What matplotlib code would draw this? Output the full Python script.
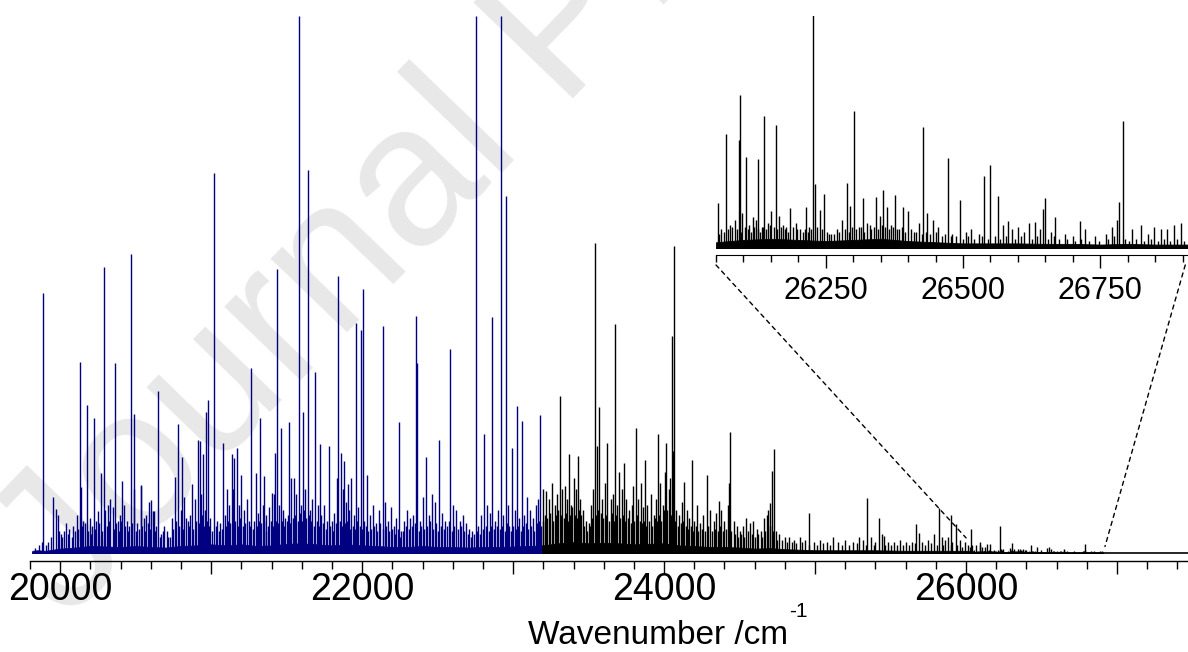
import matplotlib.pyplot as plt
from matplotlib.patches import ConnectionPatch
from matplotlib.ticker import MultipleLocator, FuncFormatter
import numpy as np

plt.rcParams['font.family'] = ['Liberation Sans', 'DejaVu Sans']

NAVY = '#000080'

# spectrum limits and colour change (cm-1)
spec_start = 19815
colour_split = 23192

# strong lines, blue part (wavenumber /cm-1, relative intensity)
blue_peak_wn = [19887, 20130, 20177, 20221, 20270, 20287, 20364, 20409, 20468, 20490,
                20534, 20587, 20623, 20649, 20762, 20781, 20804, 20872, 20925, 20947,
                20965, 20980, 21020, 21080, 21104, 21135, 21152, 21170, 21200, 21267,
                21296, 21323, 21353, 21402, 21422, 21437, 21462, 21517, 21532, 21585,
                21608, 21641, 21691, 21718, 21781, 21843, 21859, 21881, 21907, 21929,
                21962, 21995, 22004, 22033, 22135, 22241, 22356, 22366, 22421, 22512,
                22583, 22753, 22808, 22861, 22918, 22951, 22991, 23026, 23057, 23179]
blue_peak_int = [48.4, 35.5, 27.5, 25.2, 14.9, 53.3, 35.3, 13.4, 55.6, 25.8,
                 12.5, 9.5, 7.9, 30.2, 14.1, 24.0, 17.9, 12.8, 20.8, 18.4,
                 26.3, 28.5, 70.7, 20.5, 12.0, 18.5, 17.7, 19.5, 14.5, 34.5,
                 14.9, 25.2, 14.3, 11.2, 18.6, 52.8, 23.2, 24.4, 13.9, 100.0,
                 26.3, 71.3, 33.7, 20.2, 19.9, 51.6, 18.6, 17.2, 12.8, 13.9,
                 42.8, 41.5, 49.2, 14.5, 42.3, 24.3, 44.1, 35.3, 17.9, 21.0,
                 37.9, 100.0, 22.2, 43.9, 100.0, 66.5, 19.6, 27.3, 24.5, 25.6]

# strong lines, black part
black_peak_wn = [23311, 23345, 23371, 23430, 23541, 23570, 23623, 23677, 23702, 23735,
                 23794, 23812, 23845, 23874, 23911, 23962, 24015, 24050, 24066, 24134,
                 24183, 24285, 24364, 24437, 24702, 24713, 24728, 24957, 25346, 25424,
                 25457, 25669, 25685, 25821, 25898, 25934, 26033]
black_peak_int = [29.3, 12.4, 18.5, 18.0, 57.7, 27.2, 20.5, 42.7, 15.0, 16.7,
                  12.5, 23.3, 13.0, 17.3, 11.0, 22.2, 20.4, 40.4, 57.2, 13.2,
                  17.3, 14.5, 9.7, 22.5, 9.3, 15.3, 19.4, 7.4, 10.3, 6.5,
                  3.2, 5.3, 3.8, 8.4, 7.0, 5.4, 4.5]

# weaker lines
blue_weak_wn = [19835, 19860, 19920, 19951, 19970, 19985, 20005, 20025, 20040, 20060,
                20075, 20095, 20110, 20136, 20150, 20165, 20195, 20210, 20235, 20250,
                20300, 20315, 20331, 20350, 20380, 20395, 20420, 20440, 20455, 20491,
                20510, 20537, 20555, 20570, 20600, 20612, 20635, 20670, 20690, 20705,
                20725, 20740, 20800, 20820, 20845, 20860, 20890, 20911, 20935, 20960,
                20995, 21040, 21060, 21090, 21120, 21145, 21185, 21215, 21240, 21285,
                21310, 21340, 21365, 21385, 21415, 21450, 21475, 21490, 21550, 21565,
                21595, 21620, 21655, 21670, 21705, 21730, 21750, 21770, 21800, 21815,
                21834, 21870, 21895, 21915, 21945, 21975, 22015, 22050, 22070, 22090,
                22110, 22150, 22170, 22190, 22210, 22225, 22260, 22280, 22300, 22320,
                22340, 22385, 22401, 22440, 22460, 22480, 22530, 22550, 22600, 22620,
                22645, 22665, 22690, 22710, 22730, 22770, 22790, 22830, 22845, 22880,
                22900, 22935, 22965, 23010, 23040, 23075, 23090, 23110, 23130, 23150,
                23165]
blue_weak_int = [1.0, 1.5, 2.0, 10.4, 8.1, 7.0, 3.5, 4.0, 5.6, 4.5,
                 3.0, 4.0, 7.0, 12.3, 6.0, 5.5, 6.5, 5.0, 6.0, 7.8,
                 8.0, 9.0, 10.1, 8.5, 6.0, 7.0, 9.0, 6.0, 5.0, 12.0,
                 5.5, 12.7, 6.5, 7.0, 9.8, 7.9, 5.0, 3.5, 5.0, 4.0,
                 3.0, 6.5, 8.0, 10.5, 6.0, 7.0, 10.0, 21.0, 11.0, 8.0,
                 6.5, 6.0, 5.5, 7.0, 9.0, 12.0, 9.0, 8.0, 10.0, 6.0,
                 7.5, 9.0, 7.0, 8.5, 11.0, 9.0, 8.0, 6.5, 14.0, 11.0,
                 9.0, 12.0, 8.0, 10.0, 9.0, 7.0, 9.0, 6.0, 6.0, 7.5,
                 14.0, 12.0, 9.5, 8.0, 7.0, 8.5, 6.0, 7.0, 9.0, 5.5,
                 8.0, 9.5, 6.0, 8.5, 5.0, 6.5, 4.0, 6.0, 8.0, 6.5,
                 7.0, 6.0, 10.4, 7.0, 11.0, 9.5, 7.5, 6.0, 9.0, 8.0,
                 6.0, 7.0, 5.5, 4.5, 4.0, 5.0, 7.0, 9.0, 7.5, 6.0,
                 8.0, 7.0, 9.0, 8.0, 6.5, 7.0, 10.5, 8.0, 6.5, 9.0,
                 10.0]

black_weak_wn = [23200, 23215, 23235, 23255, 23275, 23290, 23325, 23360, 23385, 23400,
                 23415, 23445, 23460, 23480, 23500, 23515, 23530, 23555, 23590, 23610,
                 23645, 23660, 23690, 23720, 23750, 23770, 23785, 23830, 23860, 23890,
                 23930, 23945, 23975, 23990, 24005, 24030, 24040, 24060, 24080, 24100,
                 24120, 24150, 24165, 24200, 24215, 24240, 24260, 24305, 24330, 24345,
                 24380, 24400, 24420, 24432, 24460, 24480, 24500, 24520, 24545, 24570,
                 24590, 24615, 24640, 24660, 24680, 24690, 24740, 24760, 24800, 24830,
                 24860, 24900, 24930, 24990, 25030, 25080, 25120, 25150, 25200, 25250,
                 25290, 25320, 25370, 25400, 25440, 25480, 25520, 25560, 25600, 25640,
                 25710, 25750, 25790, 25840, 25860, 25880, 25910, 25960, 25990, 26010,
                 26040]
black_weak_int = [12.0, 11.5, 10.0, 13.0, 9.0, 11.0, 12.0, 10.0, 9.0, 14.0,
                  12.0, 10.0, 8.0, 6.0, 5.5, 9.0, 12.0, 20.0, 10.0, 13.0,
                  10.0, 11.0, 9.0, 12.0, 10.0, 8.0, 9.0, 10.0, 8.5, 9.0,
                  7.0, 10.0, 13.0, 9.0, 15.0, 12.0, 14.0, 19.0, 8.0, 7.0,
                  9.5, 8.0, 6.5, 6.0, 9.0, 5.5, 7.0, 8.0, 6.0, 7.5,
                  8.0, 6.0, 9.0, 13.0, 6.0, 5.0, 4.0, 5.0, 6.5, 5.5,
                  6.0, 4.5, 4.0, 6.5, 7.0, 8.0, 4.0, 3.5, 3.0, 3.0,
                  2.5, 3.0, 2.5, 2.0, 2.5, 2.0, 3.0, 2.0, 2.5, 2.0,
                  3.0, 2.5, 3.0, 2.0, 3.5, 2.0, 2.0, 2.5, 2.0, 2.0,
                  2.0, 2.5, 3.5, 3.0, 2.5, 3.0, 2.0, 2.5, 2.0, 1.5,
                  1.5]

# dense grass of the weakest lines
blue_grass_wn = [19880, 19905, 19940, 19995, 20015, 20050, 20085, 20120, 20145, 20185,
                 20205, 20228, 20260, 20280, 20308, 20325, 20358, 20372, 20388, 20402,
                 20430, 20448, 20475, 20500, 20520, 20545, 20562, 20580, 20595, 20628,
                 20660, 20680, 20715, 20750, 20770, 20790, 20812, 20830, 20852, 20880,
                 20900, 20918, 20940, 20955, 20972, 20988, 21005, 21030, 21050, 21070,
                 21098, 21112, 21128, 21160, 21178, 21192, 21208, 21225, 21250, 21260,
                 21278, 21303, 21318, 21332, 21347, 21360, 21375, 21395, 21408, 21430,
                 21445, 21468, 21482, 21500, 21510, 21525, 21540, 21558, 21575, 21590,
                 21600, 21615, 21630, 21648, 21662, 21680, 21698, 21712, 21740, 21760,
                 21790, 21808, 21825, 21850, 21865, 21888, 21902, 21922, 21938, 21955,
                 21968, 21985, 22000, 22025, 22042, 22060, 22080, 22100, 22120, 22140,
                 22160, 22180, 22200, 22218, 22235, 22250, 22270, 22290, 22310, 22330,
                 22350, 22375, 22392, 22412, 22430, 22450, 22470, 22490, 22505, 22520,
                 22540, 22560, 22575, 22592, 22610, 22632, 22655, 22675, 22700, 22720,
                 22740, 22760, 22780, 22800, 22818, 22838, 22855, 22870, 22890, 22910,
                 22925, 22945, 22958, 22975, 22985, 23000, 23018, 23030, 23050, 23065,
                 23082, 23100, 23120, 23140, 23158, 23172, 23185]
blue_grass_int = [2.0, 1.5, 3.0, 4.0, 3.0, 3.5, 5.0, 4.5, 5.0, 4.0,
                  3.5, 4.5, 5.5, 4.0, 5.0, 6.0, 4.5, 5.5, 4.0, 6.0,
                  5.0, 4.0, 5.5, 4.0, 4.5, 5.0, 4.0, 5.5, 4.5, 4.0,
                  3.0, 4.0, 3.0, 4.5, 6.0, 5.0, 4.5, 6.5, 5.0, 4.5,
                  6.0, 5.5, 7.0, 5.0, 6.0, 5.0, 4.0, 5.0, 4.0, 4.5,
                  5.0, 6.0, 5.5, 6.0, 5.0, 6.5, 5.0, 5.5, 6.0, 5.0,
                  4.5, 5.0, 6.0, 5.5, 6.0, 4.0, 5.0, 6.0, 5.0, 6.0,
                  5.5, 6.0, 5.0, 6.0, 7.0, 5.5, 6.5, 7.0, 6.0, 7.5,
                  6.0, 8.0, 6.5, 7.0, 6.0, 5.0, 6.0, 5.0, 5.5, 4.5,
                  5.0, 4.0, 5.5, 6.0, 5.0, 5.5, 6.0, 4.5, 5.0, 4.5,
                  6.0, 5.0, 4.5, 5.0, 4.0, 4.5, 5.0, 4.0, 5.5, 4.5,
                  5.0, 4.0, 4.5, 3.5, 4.5, 3.0, 4.0, 5.0, 4.5, 5.0,
                  5.5, 4.0, 5.0, 4.5, 5.0, 6.0, 4.5, 5.5, 4.0, 5.0,
                  4.5, 5.0, 6.0, 4.0, 5.0, 4.5, 5.0, 4.0, 3.5, 3.0,
                  3.5, 4.0, 3.5, 4.5, 5.0, 4.0, 5.0, 4.5, 5.0, 4.5,
                  5.0, 4.0, 5.5, 5.0, 4.0, 5.0, 4.5, 5.0, 4.0, 5.0,
                  5.5, 4.5, 5.0, 4.0, 5.5, 6.0, 5.0]

black_grass_wn = [23195, 23208, 23222, 23245, 23265, 23282, 23300, 23318, 23335, 23352,
                  23366, 23378, 23392, 23408, 23422, 23438, 23452, 23470, 23490, 23508,
                  23522, 23548, 23562, 23580, 23598, 23618, 23632, 23652, 23668, 23683,
                  23710, 23728, 23742, 23760, 23778, 23800, 23820, 23838, 23852, 23868,
                  23882, 23900, 23920, 23938, 23955, 23968, 23982, 23998, 24010, 24022,
                  24045, 24072, 24090, 24110, 24128, 24142, 24158, 24175, 24192, 24208,
                  24225, 24250, 24270, 24290, 24315, 24338, 24355, 24372, 24390, 24410,
                  24445, 24470, 24490, 24510, 24530, 24555, 24580, 24600, 24625, 24650,
                  24670, 24700, 24720, 24750, 24780, 24815, 24845, 24875, 24915, 24960,
                  25010, 25055, 25100, 25175, 25225, 25275, 25340, 25390, 25460, 25500,
                  25540, 25580, 25620, 25660, 25730, 25770, 25810, 25850, 25900, 25940,
                  25975, 26025]
black_grass_int = [6.0, 7.0, 6.5, 7.5, 6.0, 7.0, 8.0, 7.0, 6.5, 7.5,
                   6.0, 7.0, 8.5, 7.0, 6.5, 8.0, 7.0, 5.0, 4.0, 5.0,
                   6.5, 7.0, 8.0, 7.5, 6.5, 7.0, 6.0, 7.5, 6.0, 7.0,
                   6.5, 7.0, 6.0, 6.5, 5.5, 6.0, 7.0, 6.0, 5.5, 6.0,
                   5.0, 6.0, 5.0, 6.5, 6.0, 7.0, 6.0, 8.0, 7.0, 8.0,
                   7.0, 6.0, 5.0, 5.5, 6.0, 5.0, 4.5, 5.0, 4.0, 5.0,
                   4.0, 4.5, 4.0, 5.0, 4.0, 4.5, 4.0, 5.0, 4.0, 4.5,
                   4.0, 3.5, 3.0, 3.5, 3.0, 4.0, 3.5, 3.0, 3.5, 3.0,
                   4.0, 5.0, 4.0, 2.5, 2.5, 2.0, 2.0, 1.8, 2.0, 1.5,
                   1.5, 1.8, 1.5, 1.5, 1.5, 1.8, 1.5, 1.5, 1.5, 1.5,
                   1.5, 1.5, 1.5, 1.8, 1.5, 1.8, 1.5, 1.5, 1.5, 1.5,
                   1.2, 1.2]

# upper edge of the solid band of unresolved lines
floor_wn = [19815, 19850, 19900, 19950, 20000, 20100, 20200, 20300, 20400, 20500,
            20600, 20700, 20800, 20900, 21000, 21100, 21200, 21300, 21400, 21500,
            21600, 21700, 21800, 21900, 22000, 22100, 22200, 22300, 22400, 22500,
            22600, 22700, 22800, 22900, 23000, 23100, 23192, 23300, 23400, 23500,
            23600, 23700, 23800, 23900, 24000, 24100, 24200, 24300, 24400, 24500,
            24600, 24700, 24800, 24900, 25000, 25200, 25400, 25600, 25800, 26000,
            26050]
floor_int = [0.4, 0.5, 0.4, 0.6, 0.8, 1.0, 1.3, 1.2, 1.1, 1.3,
             1.1, 1.0, 1.3, 1.4, 1.6, 1.4, 1.6, 1.3, 1.4, 1.7,
             1.8, 1.6, 1.4, 1.6, 1.4, 1.3, 1.1, 1.1, 1.3, 1.1,
             1.1, 1.0, 1.1, 1.1, 1.2, 1.3, 1.4, 1.8, 2.0, 1.8,
             1.9, 1.8, 1.6, 1.7, 1.8, 1.4, 1.3, 1.1, 1.1, 1.0,
             0.8, 0.9, 0.7, 0.6, 0.5, 0.5, 0.5, 0.4, 0.4, 0.4,
             0.3]

# expanded region, intensities in % of the inset scale
zoom_peak_wn = [26053, 26068, 26091, 26093, 26105, 26117, 26127, 26138, 26159, 26185,
                26214, 26226, 26230, 26239, 26247, 26288, 26295, 26301, 26317, 26341,
                26355, 26361, 26377, 26391, 26400, 26428, 26435, 26472, 26494, 26539,
                26550, 26563, 26582, 26631, 26646, 26650, 26668, 26713, 26785, 26791]
zoom_peak_int = [19.5, 49.0, 46.6, 66.1, 39.1, 13.2, 38.2, 56.9, 53.2, 17.2,
                 17.8, 170.0, 27.4, 16.4, 23.1, 28.2, 18.2, 59.2, 21.4, 21.8,
                 25.0, 17.5, 22.8, 17.8, 16.1, 52.3, 15.0, 38.7, 20.7, 31.0,
                 35.6, 22.6, 11.6, 11.1, 16.7, 21.4, 13.2, 11.6, 19.8, 54.6]

zoom_weak_wn = [26060, 26075, 26085, 26098, 26110, 26122, 26133, 26145, 26150, 26165,
                26172, 26178, 26195, 26203, 26220, 26260, 26270, 26280, 26310, 26325,
                26333, 26348, 26368, 26383, 26410, 26420, 26445, 26455, 26480, 26505,
                26515, 26530, 26573, 26590, 26600, 26612, 26620, 26640, 26660, 26685,
                26700, 26722, 26740, 26760, 26772, 26780, 26808, 26825, 26838, 26848,
                26860, 26872, 26885, 26898]
zoom_weak_int = [8, 10, 12, 15, 10, 12, 9, 11, 16, 14,
                 10, 9, 11, 8, 9, 6, 8, 12, 9, 11,
                 8, 14, 10, 8, 7, 11, 12, 9, 6, 7,
                 8, 6, 10, 8, 9, 7, 11, 8, 7, 6,
                 5, 8, 5, 6, 9, 12, 8, 10, 6, 9,
                 8, 8, 10, 11]

zoom_grass_wn = [26056, 26064, 26072, 26080, 26088, 26095, 26102, 26108, 26114, 26120,
                 26126, 26130, 26136, 26142, 26148, 26155, 26162, 26168, 26175, 26182,
                 26190, 26198, 26208, 26212, 26218, 26224, 26234, 26243, 26252, 26256,
                 26265, 26275, 26285, 26292, 26298, 26305, 26314, 26320, 26330, 26338,
                 26345, 26352, 26358, 26365, 26372, 26380, 26388, 26395, 26405, 26415,
                 26425, 26432, 26440, 26450, 26462, 26468, 26478, 26488, 26500, 26510,
                 26520, 26535, 26545, 26558, 26568, 26578, 26595, 26605, 26625, 26635,
                 26655, 26665, 26675, 26690, 26705, 26715, 26730, 26748, 26765, 26775,
                 26795, 26803, 26815, 26830, 26843, 26855, 26866, 26878, 26890, 26903]
zoom_grass_int = [6, 7, 8, 9, 8, 7, 9, 8, 7, 9,
                  8, 7, 9, 8, 10, 9, 8, 9, 8, 7,
                  9, 8, 7, 8, 7, 8, 9, 8, 7, 6,
                  6, 7, 8, 7, 9, 8, 9, 7, 10, 9,
                  8, 10, 9, 8, 9, 8, 9, 7, 8, 7,
                  6, 7, 6, 7, 5, 6, 5, 5, 4, 5,
                  4, 5, 4, 5, 4, 5, 4, 5, 4, 5,
                  4, 5, 4, 4, 3, 4, 3, 3, 4, 5,
                  4, 3, 4, 3, 4, 3, 4, 3, 4, 3]

zoom_floor_wn = [26050, 26100, 26150, 26200, 26250, 26300, 26350, 26400, 26450, 26500,
                 26550, 26600, 26650, 26700, 26750, 26800, 26850, 26910]
zoom_floor_int = [2.5, 3.5, 4.0, 3.5, 3.0, 3.5, 4.0, 3.0, 2.5, 2.0,
                  2.0, 2.0, 1.8, 1.8, 1.5, 1.8, 1.5, 1.5]

zoom_to_main = 0.03  # inset % -> main intensity units

fig = plt.figure(figsize=(11.88, 6.52), dpi=100)

# watermark behind everything
fig.text(0.057, 0.046, 'Journal Pre-proof', fontsize=144, color='#e8e8e8',
         rotation=46, rotation_mode='anchor', ha='left', va='baseline', zorder=-5)

ax = fig.add_axes([30 / 1188, 91 / 652, 1158 / 1188, 545 / 652])
ax.patch.set_alpha(0)
x_max = 27470
ax.set_xlim(19800, x_max)
ax.set_ylim(-1.5, 100)

floor_wn_a = np.array(floor_wn)
floor_int_a = np.array(floor_int)
ax.fill_between(floor_wn_a, 0, floor_int_a, where=floor_wn_a <= colour_split,
                color=NAVY, lw=0.6)
ax.fill_between(floor_wn_a, 0, floor_int_a, where=floor_wn_a >= colour_split,
                color='black', lw=0.6)

ax.vlines(blue_grass_wn, 0, blue_grass_int, color=NAVY, lw=1.0)
ax.vlines(blue_weak_wn, 0, blue_weak_int, color=NAVY, lw=1.0)
ax.vlines(blue_peak_wn, 0, blue_peak_int, color=NAVY, lw=1.0)
ax.vlines(black_grass_wn, 0, black_grass_int, color='black', lw=1.0)
ax.vlines(black_weak_wn, 0, black_weak_int, color='black', lw=1.0)
ax.vlines(black_peak_wn, 0, black_peak_int, color='black', lw=1.0)

# expanded region as it appears on the full scale
ax.fill_between(zoom_floor_wn, 0, np.array(zoom_floor_int) * zoom_to_main,
                color='black', lw=0.6)
for wn, val in [(zoom_grass_wn, zoom_grass_int), (zoom_weak_wn, zoom_weak_int),
                (zoom_peak_wn, zoom_peak_int)]:
    ax.vlines(wn, 0, np.array(val) * zoom_to_main, color='black', lw=1.0)

ax.hlines(0, spec_start, colour_split, color=NAVY, lw=1.2)
ax.hlines(0, colour_split, x_max, color='black', lw=1.2)

for s in ['left', 'right', 'top']:
    ax.spines[s].set_visible(False)
ax.spines['bottom'].set_linewidth(1.0)
ax.set_yticks([])
ax.xaxis.set_major_locator(MultipleLocator(1000))
ax.xaxis.set_minor_locator(MultipleLocator(200))
ax.xaxis.set_major_formatter(FuncFormatter(lambda v, p: f'{v:.0f}' if v % 2000 == 0 else ''))
ax.tick_params(axis='x', which='major', length=9, width=1.0, labelsize=27, pad=-1)
ax.tick_params(axis='x', which='minor', length=5.5, width=1.0)
ax.set_xlabel('Wavenumber /cm', fontsize=24)
ax.xaxis.label.set_verticalalignment('bottom')
ax.xaxis.set_label_coords(0.542, -0.165)
ax.annotate('-1', xy=(1, 1), xycoords=ax.xaxis.label, xytext=(1, -1),
            textcoords='offset points', ha='left', va='bottom', fontsize=15)

# inset with the expanded high-wavenumber end
axins = fig.add_axes([716 / 1188, 397 / 652, 472 / 1188, 239 / 652])
axins.patch.set_alpha(0)
axins.set_xlim(26050, 26910)
axins.set_ylim(-3.0, 100)
axins.fill_between(zoom_floor_wn, 0, zoom_floor_int, color='black', lw=0.6)
axins.vlines(zoom_grass_wn, 0, zoom_grass_int, color='black', lw=1.0)
axins.vlines(zoom_weak_wn, 0, zoom_weak_int, color='black', lw=1.0)
axins.vlines(zoom_peak_wn, 0, zoom_peak_int, color='black', lw=1.0)
axins.hlines(0, 26050, 26910, color='black', lw=1.2)
for s in ['left', 'right', 'top']:
    axins.spines[s].set_visible(False)
axins.set_yticks([])
axins.xaxis.set_major_locator(MultipleLocator(250))
axins.xaxis.set_minor_locator(MultipleLocator(50))
axins.tick_params(axis='x', which='major', length=9, width=1.0, labelsize=22, pad=6)
axins.tick_params(axis='x', which='minor', length=5, width=1.0)

# dashed guides from the inset down to the expanded range
for xa, xb, yb in [(26050, 26000, 2.8), (26905, 26920, 1.2)]:
    con = ConnectionPatch(xyA=(xa, -7.3), coordsA=axins.transData,
                          xyB=(xb, yb), coordsB=ax.transData,
                          ls=(0, (3, 3)), lw=1.0, color='black')
    fig.add_artist(con)

fig.savefig('out.png', dpi=100)
